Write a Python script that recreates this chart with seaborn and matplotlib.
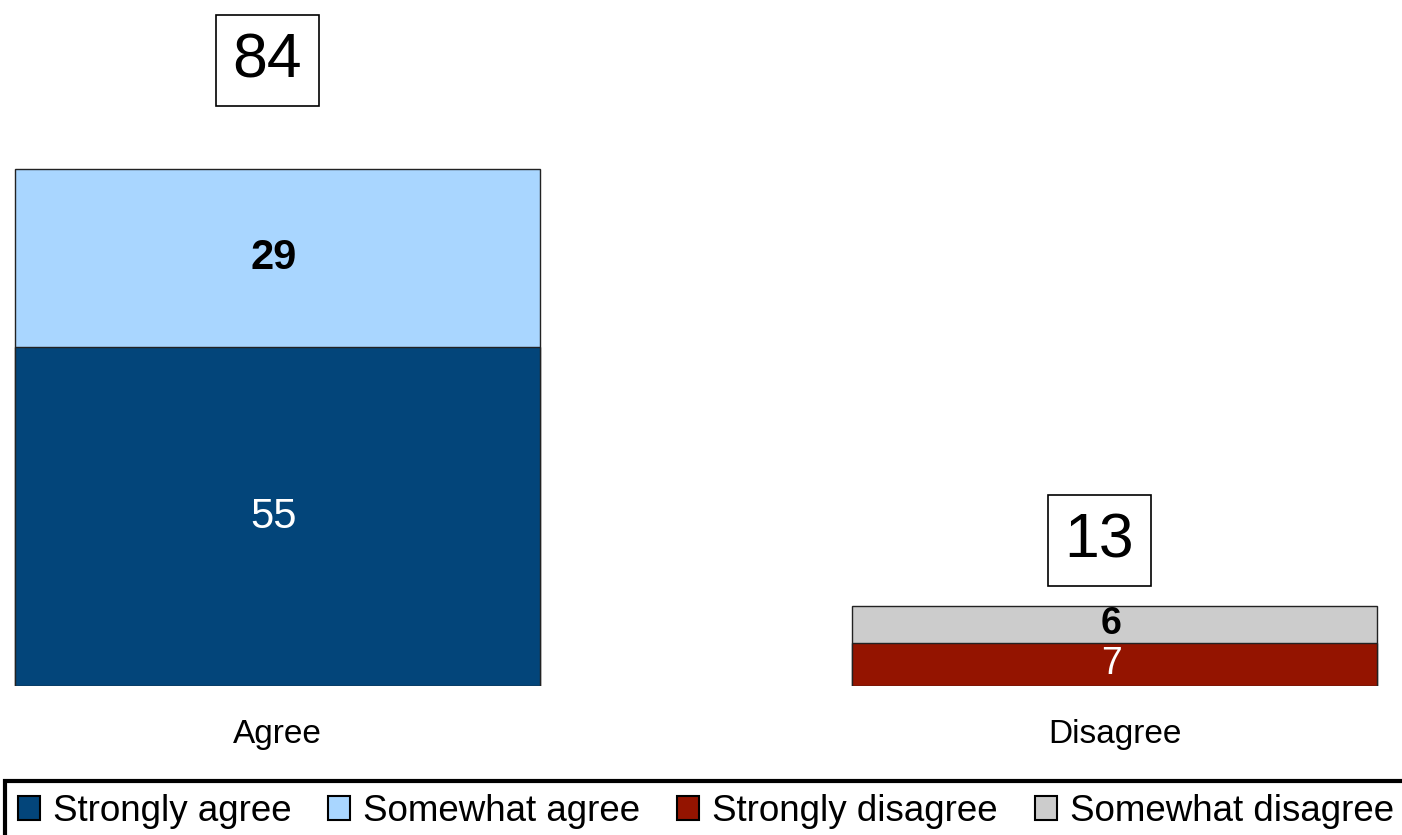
import pandas as pd
import matplotlib
matplotlib.use("Agg")
import matplotlib.pyplot as plt
import seaborn as sns
from matplotlib.patches import Patch

# Data
categories = ["Agree", "Disagree"]
strong_series = ["Strongly agree", "Strongly disagree"]
somewhat_series = ["Somewhat agree", "Somewhat disagree"]
strong_values = [55, 7]
somewhat_values = [29, 6]
totals = [84, 13]
legend_order = ["Strongly agree", "Somewhat agree", "Strongly disagree", "Somewhat disagree"]

colors = {
    "Strongly agree": "#03457A",
    "Somewhat agree": "#A9D6FF",
    "Strongly disagree": "#941400",
    "Somewhat disagree": "#CCCCCC",
}

sns.set_style("white")
plt.rcParams["font.family"] = ["Liberation Sans", "DejaVu Sans"]
plt.rcParams["text.color"] = "black"
plt.rcParams["xtick.color"] = "black"

# Bottom segments and the stacked tops (drawn as full totals behind)
bottom_df = pd.DataFrame({"category": categories, "series": strong_series, "value": strong_values})
top_df = pd.DataFrame({"category": categories, "series": somewhat_series,
                       "value": [a + b for a, b in zip(strong_values, somewhat_values)]})

fig = plt.figure(figsize=(14.02, 8.35), dpi=100)
ax = fig.add_axes([0, 0.1784, 1, 0.8216])

sns.barplot(data=top_df, x="category", y="value", hue="series", palette=colors, saturation=1,
            dodge=False, width=0.627, edgecolor="#222222", linewidth=1, legend=False, ax=ax)
sns.barplot(data=bottom_df, x="category", y="value", hue="series", palette=colors, saturation=1,
            dodge=False, width=0.627, edgecolor="#222222", linewidth=1, legend=False, ax=ax)

ax.set_xlim(-0.331, 1.343)
ax.set_ylim(0, 111.45)
ax.set_xlabel("")
ax.set_ylabel("")
ax.set_yticks([])
ax.tick_params(axis="x", length=0, pad=24, labelsize=24, labelcolor="black")
for s in ax.spines.values():
    s.set_visible(False)

# Segment labels
seg_sizes = [30, 27]
for i in range(len(categories)):
    ax.text(i - 0.004, strong_values[i] / 2, str(strong_values[i]), ha="center", va="center",
            color="white", fontsize=seg_sizes[i])
    ax.text(i - 0.004, strong_values[i] + somewhat_values[i] / 2, str(somewhat_values[i]),
            ha="center", va="center", color="black", fontsize=seg_sizes[i], fontweight="bold")

# Total boxes above the bars
total_dx = [-7, -11]
total_dy = [78, 47]
for i, t in enumerate(totals):
    ax.annotate(str(t), xy=(i, t), xytext=(total_dx[i], total_dy[i]), textcoords="offset points",
                ha="center", va="center", fontsize=45, color="black",
                bbox=dict(boxstyle="square,pad=0.26", fc="white", ec="black", lw=1.2))

handles = [Patch(facecolor=colors[k], edgecolor="black", linewidth=1.5) for k in legend_order]
leg = fig.legend(handles, legend_order, ncol=4, loc="upper left",
                 bbox_to_anchor=(5 / 1402, 1 - 781 / 835), borderaxespad=0,
                 fontsize=26.5, frameon=True, fancybox=False, edgecolor="black",
                 handlelength=0.6, handleheight=0.6, handletextpad=0.35,
                 columnspacing=1.0, borderpad=0.35)
leg.get_frame().set_linewidth(3)
leg.get_frame().set_alpha(1)
for txt in leg.get_texts():
    txt.set_color("black")

fig.savefig("out.png", dpi=100)
